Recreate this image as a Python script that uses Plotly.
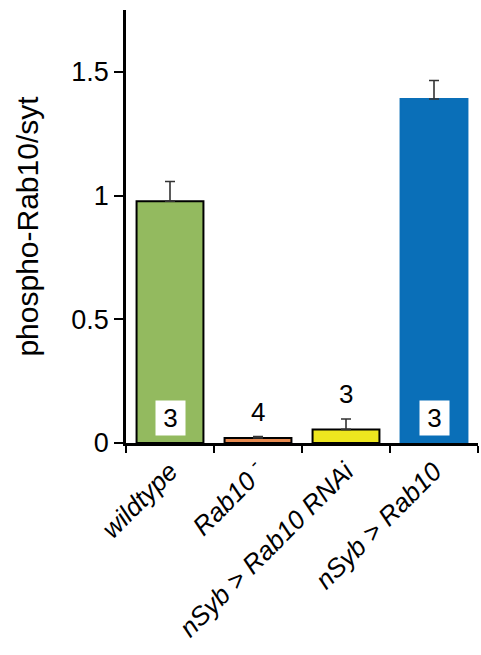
import plotly.graph_objects as go

categories = ["<i>wildtype</i>", "<i>Rab10 <sup>-</sup></i>", "<i>nSyb > Rab10 RNAi</i>", "<i>nSyb > Rab10</i>"]
values = [0.977, 0.02, 0.055, 1.39]
errors = [0.08, 0.006, 0.042, 0.075]
n_labels = ["3", "4", "3", "3"]
colors = ["#93BA5F", "#E8894F", "#EDE61F", "#0A6FB8"]
outline = ["black", "black", "black", "#0A6FB8"]

FONT = "Liberation Sans, Arial, sans-serif"

fig = go.Figure()
fig.add_trace(go.Bar(
    x=categories, y=values,
    marker=dict(color=colors, line=dict(color=outline, width=2)),
    error_y=dict(type="data", array=errors, arrayminus=[0]*4, symmetric=False,
                 color="#333333", thickness=1.6, width=5),
    showlegend=False,
))

# n labels: boxed inside tall bars, plain above short bars
for i, (c, v, n) in enumerate(zip(categories, values, n_labels)):
    if v > 0.5:
        fig.add_annotation(x=c, y=0.1, text=n, showarrow=False,
                           font=dict(size=26, color="black", family=FONT),
                           bgcolor="white", borderpad=4, width=21, height=26)
    else:
        fig.add_annotation(x=c, y=v + errors[i] + 0.1, text=n, showarrow=False,
                           font=dict(size=26, color="black", family=FONT))

fig.update_layout(
    width=481, height=655,
    margin=dict(l=126, r=3, t=10, b=212),
    plot_bgcolor="white", paper_bgcolor="white",
    bargap=0.24,
    font=dict(family=FONT, color="black"),
    yaxis=dict(range=[0, 1.75], tickvals=[0, 0.5, 1, 1.5], ticktext=["0", "0.5", "1", "1.5"],
               showgrid=False, zeroline=False, showline=True, linecolor="black", linewidth=2.5,
               ticks="outside", ticklen=9, tickwidth=2, tickcolor="black",
               tickfont=dict(size=27), title=dict(text="phospho-Rab10/syt", font=dict(size=30), standoff=24)),
    xaxis=dict(showgrid=False, showline=True, linecolor="black", linewidth=3,
               ticks="outside", tickson="boundaries", ticklen=7, tickwidth=2, tickcolor="black",
               tickangle=-45, tickfont=dict(size=26)),
)

fig.write_html("out.html")
